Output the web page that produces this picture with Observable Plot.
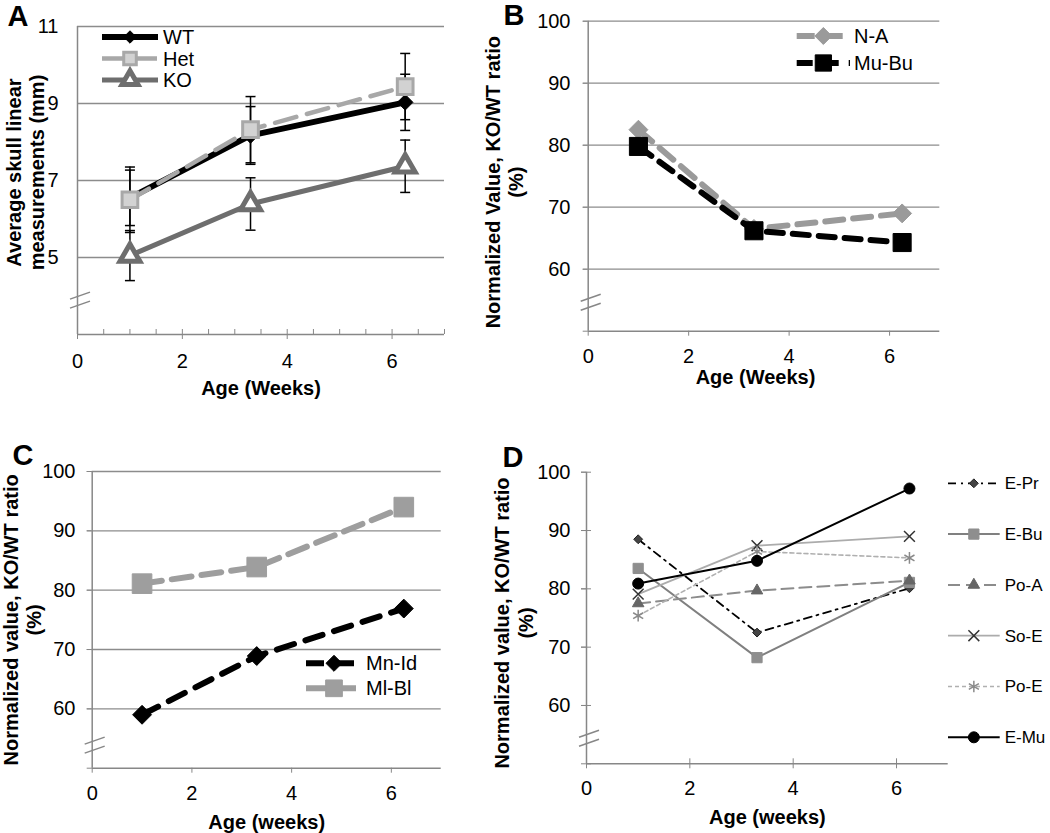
<!DOCTYPE html>
<html><head><meta charset="utf-8">
<script src="https://cdn.jsdelivr.net/npm/d3@7"></script>
<script src="https://cdn.jsdelivr.net/npm/@observablehq/plot@0.6"></script>
<style>
body{margin:0;background:#fff;}
#fig{position:relative;width:1050px;height:833px;overflow:hidden;background:#fff;}
</style></head><body><div id="fig"></div>
<script>
// ---------------- data ----------------
const ages = [1, 3.3, 6.25];
const xTicks = [0, 2, 4, 6];
const xMinorTicksA = [0.5, 1, 1.5, 2, 2.5, 3, 3.5, 4, 4.5, 5, 5.5, 6, 6.5, 7];
const yTicksA = [5, 7, 9, 11];
const yTicksPct = [60, 70, 80, 90, 100];
const yTickMarksPct = [50, 60, 70, 80, 90, 100];
const yDomainA = [3, 11];
const yDomainPct = [50, 100];
const xDomain = [0, 7];

// Panel A
const wt = [6.55, 8.17, 9.03];
const het = [6.5, 8.32, 9.44];
const ko = [5.05, 6.39, 7.37];
const wtErr = [0.72, 0.75, 0.73];
const hetErr = [0.85, 0.86, 0.86];
const koErr = [0.65, 0.68, 0.68];
// Panel B
const naA = [82.5, 66.5, 69.0];
const muBu = [79.8, 66.2, 64.3];
// Panel C
const mnId = [59.0, 68.9, 76.9];
const mlBl = [81.1, 83.9, 94.0];
// Panel D
const ePr = [88.5, 72.5, 80.1];
const eBu = [83.5, 68.2, 81.1];
const poA = [77.5, 79.7, 81.4];
const soE = [79.1, 87.4, 89.0];
const poE = [75.4, 86.4, 85.3];
const eMu = [80.9, 84.8, 97.2];

// axis breaks (data units)
const breakA = 3.88, breakB = 54.6, breakC = 53.8, breakD = 54.3;

// ---------------- helpers ----------------
const font = "'Liberation Sans', Arial, Helvetica, sans-serif";
const fig = document.getElementById("fig");
const axisGray = "#878787";
const gridGray = "#8c8c8c";

const rowsOf = (vals, errs) => ages.map((a, i) => ({
  x: a, y: vals[i],
  lo: errs ? vals[i] - errs[i] : null,
  hi: errs ? vals[i] + errs[i] : null
}));

const capSymbol = {draw(ctx, size) { const w = Math.sqrt(size); ctx.moveTo(-w, 0); ctx.lineTo(w, 0); }};

function seriesLine(s) {
  return Plot.line(rowsOf(s.vals), {x: "x", y: "y", stroke: s.stroke, strokeWidth: s.sw,
    strokeDasharray: s.dash || undefined, strokeLinejoin: "round"});
}
function seriesDots(s) {
  return Plot.dot(rowsOf(s.vals), {x: "x", y: "y", symbol: s.symbol, r: s.r, fill: s.fill,
    stroke: s.mstroke || "none", strokeWidth: s.msw || 0});
}
function errorMarks(s) {
  const rows = rowsOf(s.vals, s.errs);
  const capR = 5 / Math.sqrt(Math.PI);
  return [
    Plot.ruleX(rows, {x: "x", y1: "lo", y2: "hi", stroke: "#000", strokeWidth: 1.5}),
    Plot.dot(rows, {x: "x", y: "lo", symbol: capSymbol, r: capR, fill: "none", stroke: "#000", strokeWidth: 1.5}),
    Plot.dot(rows, {x: "x", y: "hi", symbol: capSymbol, r: capR, fill: "none", stroke: "#000", strokeWidth: 1.5})
  ];
}
function breakMark(yVal) {
  return (index, scales, values, dim) => {
    const g = d3.create("svg:g").attr("stroke", axisGray).attr("stroke-width", 1.5);
    const x = scales.x(0), y = scales.y(yVal);
    for (const off of [-4.5, 4.5]) {
      g.append("line").attr("x1", x - 7).attr("y1", y + off + 3.5).attr("x2", x + 13).attr("y2", y + off - 3.5);
    }
    return g.node();
  };
}
function legendMark(series, o) {
  return (index, scales, values, dim) => {
    const g = d3.create("svg:g").attr("font-family", font).attr("font-size", o.fontSize);
    const bx = o.fromRight ? dim.width - dim.marginRight : dim.marginLeft;
    series.forEach((s, i) => {
      const y = dim.marginTop + o.y0 + i * o.dy;
      g.append("line").attr("x1", bx + o.x0).attr("x2", bx + o.x1).attr("y1", y).attr("y2", y)
        .attr("stroke", s.stroke).attr("stroke-width", s.sw).attr("stroke-dasharray", s.dash || null);
      const rr = s.r * (o.scale || 1);
      g.append("path").attr("transform", `translate(${bx + (o.x0 + o.x1) / 2},${y})`)
        .attr("d", d3.symbol(s.symbol, Math.PI * rr * rr)())
        .attr("fill", s.fill).attr("stroke", s.mstroke || "none").attr("stroke-width", s.msw || 0);
      g.append("text").attr("x", bx + o.tx).attr("y", y).attr("dy", "0.35em")
        .attr("text-anchor", "start").attr("fill", "#000").text(s.label);
    });
    return g.node();
  };
}
function labels(o) {
  return [
    Plot.text([o.ylabel], {text: d => d, frameAnchor: "left", textAnchor: "middle", lineAnchor: "middle",
      rotate: -90, dx: o.ydx, dy: o.ydy, fontSize: 20, fontWeight: "bold", lineHeight: 1.16, fill: "#000"}),
    Plot.text([o.xlabel], {text: d => d, frameAnchor: "bottom", textAnchor: "middle", lineAnchor: "middle",
      dx: o.xdx || 0, dy: o.xdy, fontSize: 20, fontWeight: "bold", fill: "#000"}),
    Plot.text([o.letter], {text: d => d, frameAnchor: "top-left", textAnchor: "start", lineAnchor: "middle",
      dx: o.ldx, dy: o.ldy, fontSize: 29, fontWeight: "bold", fill: "#000"})
  ];
}
function panel(o) {
  const svg = Plot.plot({
    width: o.w, height: o.h,
    marginLeft: o.ml, marginRight: o.mr, marginTop: o.mt, marginBottom: o.mb,
    x: {domain: xDomain, label: null},
    y: {domain: o.yDomain, label: null},
    style: {fontFamily: font, fontSize: "20px", color: "#000", background: "transparent", overflow: "visible"},
    marks: o.marks
  });
  svg.style.position = "absolute";
  svg.style.left = o.left + "px";
  svg.style.top = o.top + "px";
  svg.style.maxWidth = "none";
  fig.appendChild(svg);
}

// ---------------- Panel A ----------------
const seriesA = [
  {label: "WT", vals: wt, errs: wtErr, stroke: "#000", sw: 6, symbol: d3.symbolDiamond2, r: 7, fill: "#000", mstroke: "#000", msw: 1},
  {label: "Het", vals: het, errs: hetErr, stroke: "#a8a8a8", sw: 4.5, dash: "22,11", symbol: d3.symbolSquare2, r: 10, fill: "#d2d2d2", mstroke: "#a8a8a8", msw: 3},
  {label: "KO", vals: ko, errs: koErr, stroke: "#6e6e6e", sw: 5, symbol: d3.symbolTriangle2, r: 9.5, fill: "#fff", mstroke: "#6e6e6e", msw: 5}
];
panel({
  left: 0, top: 0, w: 520, h: 400, ml: 77, mr: 76, mt: 26, mb: 66, yDomain: yDomainA,
  marks: [
    Plot.gridY(yTicksA, {stroke: gridGray, strokeOpacity: 1, strokeWidth: 1.3}),
    Plot.ruleX([xDomain[0]], {stroke: axisGray, strokeWidth: 1.5}),
    Plot.ruleY([yDomainA[0]], {stroke: axisGray, strokeWidth: 1.5}),
    Plot.axisY(yTicksA, {tickSize: 0, tickPadding: 19, label: null, fontSize: 20, fill: "#000"}),
    Plot.axisX(xTicks, {tickSize: 5, tickPadding: 14, label: null, fontSize: 20, stroke: axisGray, fill: "#000"}),
    Plot.axisX(xMinorTicksA, {tickSize: -5, tickFormat: () => "", label: null, stroke: axisGray}),
    breakMark(breakA),
    ...seriesA.map(seriesLine),
    ...seriesA.flatMap(errorMarks),
    ...seriesA.map(seriesDots),
    legendMark(seriesA, {x0: 25, x1: 81, tx: 86, y0: 11, dy: 21.5, fontSize: 20, scale: 0.8}),
    ...labels({ylabel: "Average skull linear\nmeasurements (mm)", ydx: -52.5, ydy: -8,
      xlabel: "Age (Weeks)", xdy: 54, letter: "A", ldx: -70, ldy: -10})
  ]
});

// ---------------- Panel B ----------------
const seriesB = [
  {label: "N-A", vals: naA, stroke: "#9a9a9a", sw: 6, dash: "18,10", symbol: d3.symbolDiamond2, r: 8.5, fill: "#9a9a9a", mstroke: "#9a9a9a", msw: 1},
  {label: "Mu-Bu", vals: muBu, stroke: "#000", sw: 6, dash: "16,10", symbol: d3.symbolSquare2, r: 11.5, fill: "#000", mstroke: "#000", msw: 1}
];
panel({
  left: 470, top: 0, w: 580, h: 400, ml: 117.7, mr: 110.7, mt: 20.7, mb: 69.3, yDomain: yDomainPct,
  marks: [
    Plot.gridY(yTicksPct, {stroke: gridGray, strokeOpacity: 1, strokeWidth: 1.3}),
    Plot.ruleX([xDomain[0]], {stroke: axisGray, strokeWidth: 1.5}),
    Plot.ruleY([yDomainPct[0]], {stroke: axisGray, strokeWidth: 1.5}),
    Plot.axisY(yTickMarksPct, {tickSize: 5, tickFormat: () => "", label: null, stroke: axisGray}),
    Plot.axisY(yTicksPct, {tickSize: 5, tickPadding: 12.7, label: null, fontSize: 20, stroke: axisGray, fill: "#000"}),
    Plot.axisX(xTicks, {tickSize: 5, tickPadding: 12.6, label: null, fontSize: 20, stroke: axisGray, fill: "#000"}),
    breakMark(breakB),
    ...seriesB.map(seriesLine),
    ...seriesB.map(seriesDots),
    legendMark(seriesB, {x0: 209, x1: 262.3, tx: 266.3, y0: 15.3, dy: 27, fontSize: 20, scale: 0.9}),
    ...labels({ylabel: "Normalized Value, KO/WT ratio\n(%)", ydx: -84.4, ydy: 6,
      xlabel: "Age (Weeks)", xdx: -8.5, xdy: 46, letter: "B", ldx: -84.7, ldy: -5})
  ]
});

// ---------------- Panel C ----------------
const seriesC = [
  {label: "Mn-Id", vals: mnId, stroke: "#000", sw: 6, dash: "18,12", symbol: d3.symbolDiamond2, r: 8.5, fill: "#000", mstroke: "#000", msw: 1},
  {label: "Ml-Bl", vals: mlBl, stroke: "#9e9e9e", sw: 6, dash: "20,10", symbol: d3.symbolSquare2, r: 12.5, fill: "#9e9e9e", mstroke: "#9e9e9e", msw: 1}
];
panel({
  left: 0, top: 400, w: 520, h: 433, ml: 91.7, mr: 79.3, mt: 71, mb: 65.3, yDomain: yDomainPct,
  marks: [
    Plot.gridY(yTicksPct, {stroke: gridGray, strokeOpacity: 1, strokeWidth: 1.3}),
    Plot.ruleX([xDomain[0]], {stroke: axisGray, strokeWidth: 1.5}),
    Plot.ruleY([yDomainPct[0]], {stroke: axisGray, strokeWidth: 1.5}),
    Plot.axisY(yTickMarksPct, {tickSize: 5, tickFormat: () => "", label: null, stroke: axisGray}),
    Plot.axisY(yTicksPct, {tickSize: 5, tickPadding: 11.7, label: null, fontSize: 20, stroke: axisGray, fill: "#000"}),
    Plot.axisX(xTicks, {tickSize: 5, tickPadding: 12.3, label: null, fontSize: 20, stroke: axisGray, fill: "#000"}),
    breakMark(breakC),
    ...seriesC.map(seriesLine),
    ...seriesC.map(seriesDots),
    legendMark(seriesC, {x0: 214.3, x1: 270.3, tx: 274.3, y0: 192.3, dy: 25, fontSize: 20, scale: 0.85}),
    ...labels({ylabel: "Normalized value, KO/WT ratio\n(%)", ydx: -70, ydy: 0,
      xlabel: "Age (weeks)", xdy: 54, letter: "C", ldx: -79.7, ldy: -16})
  ]
});

// ---------------- Panel D ----------------
const seriesD = [
  {label: "E-Pr", vals: ePr, stroke: "#000", sw: 1.8, dash: "8,5,2,5", symbol: d3.symbolDiamond2, r: 4, fill: "#444", mstroke: "#222", msw: 1},
  {label: "E-Bu", vals: eBu, stroke: "#808080", sw: 2, symbol: d3.symbolSquare2, r: 6.5, fill: "#8e8e8e", mstroke: "#8e8e8e", msw: 1},
  {label: "Po-A", vals: poA, stroke: "#8c8c8c", sw: 2, dash: "12,6", symbol: d3.symbolTriangle2, r: 5.5, fill: "#666", mstroke: "#666", msw: 1},
  {label: "So-E", vals: soE, stroke: "#acacac", sw: 1.8, symbol: d3.symbolTimes, r: 5, fill: "none", mstroke: "#333", msw: 1.5},
  {label: "Po-E", vals: poE, stroke: "#b0b0b0", sw: 1.6, dash: "4,3", symbol: d3.symbolAsterisk, r: 5.5, fill: "none", mstroke: "#8a8a8a", msw: 1.5},
  {label: "E-Mu", vals: eMu, stroke: "#000", sw: 2, symbol: d3.symbolCircle, r: 5.5, fill: "#000", mstroke: "#000", msw: 1}
];
panel({
  left: 470, top: 400, w: 580, h: 433, ml: 116, mr: 102.3, mt: 71.7, mb: 69.7, yDomain: yDomainPct,
  marks: [
    Plot.ruleX([xDomain[0]], {stroke: axisGray, strokeWidth: 1.5}),
    Plot.ruleY([yDomainPct[0]], {stroke: axisGray, strokeWidth: 1.5}),
    Plot.axisY(yTickMarksPct, {tickSize: 5, tickFormat: () => "", label: null, stroke: axisGray}),
    Plot.axisY(yTickMarksPct, {tickSize: -5, tickFormat: () => "", label: null, stroke: axisGray}),
    Plot.axisY(yTicksPct, {tickSize: 5, tickPadding: 11, label: null, fontSize: 20, stroke: axisGray, fill: "#000"}),
    Plot.axisX(xTicks, {tickSize: 5, tickPadding: 11.7, label: null, fontSize: 20, stroke: axisGray, fill: "#000"}),
    Plot.axisX(xTicks, {tickSize: -5, tickFormat: () => "", label: null, stroke: axisGray}),
    breakMark(breakD),
    ...seriesD.map(seriesLine),
    ...seriesD.map(seriesDots),
    legendMark(seriesD, {fromRight: true, x0: 0.3, x1: 52, tx: 57, y0: 11.6, dy: 50.8, fontSize: 17, scale: 1}),
    ...labels({ylabel: "Normalized value, KO/WT ratio\n(%)", ydx: -73, ydy: 5,
      xlabel: "Age (weeks)", xdy: 53.4, letter: "D", ldx: -84, ldy: -14.7})
  ]
});
</script></body></html>
